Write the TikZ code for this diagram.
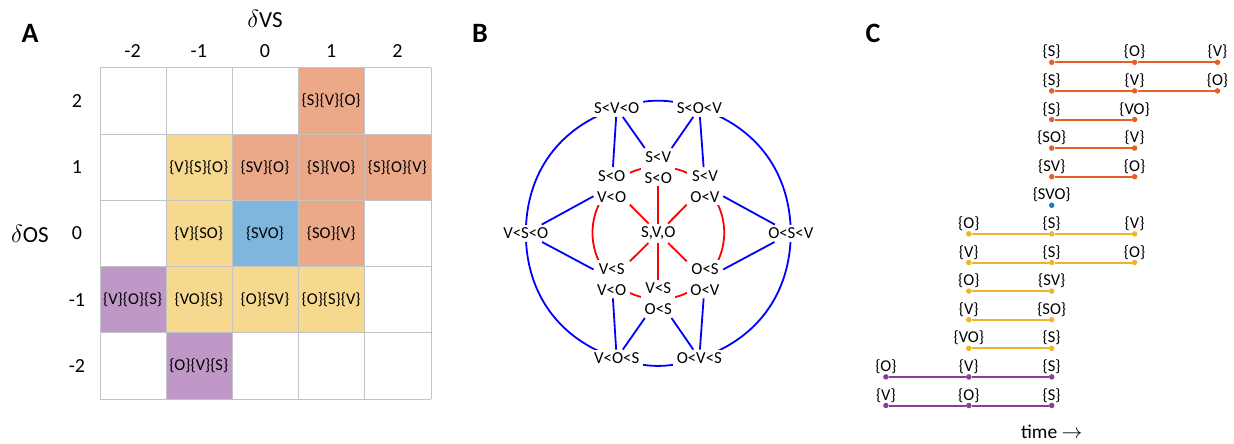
\documentclass[tikz,border=0pt]{standalone}
\usepackage{fontspec}
\setmainfont{Carlito}
\usetikzlibrary{backgrounds}
\definecolor{cellorange}{HTML}{ECA98A}
\definecolor{cellyellow}{HTML}{F6D88E}
\definecolor{cellblue}{HTML}{7FB6DE}
\definecolor{cellpurple}{HTML}{BF98C8}
\definecolor{gridgray}{HTML}{C4C4C4}
\definecolor{tOrange}{HTML}{E0622A}
\definecolor{tYellow}{HTML}{F0B429}
\definecolor{tPurple}{HTML}{8A3D96}
\definecolor{tBlue}{HTML}{1F78C8}
\begin{document}
\begin{tikzpicture}[x=1pt,y=1pt,
  panel/.style={font=\bfseries\fontsize{28}{32}\selectfont, inner sep=0pt},
  axisnum/.style={font=\fontsize{20}{24}\selectfont, inner sep=0pt},
  axistitle/.style={font=\fontsize{23}{27}\selectfont, inner sep=0pt},
  cell/.style={minimum width=66.2pt, minimum height=66.2pt, inner sep=0pt,
    font=\fontsize{16.5}{19}\selectfont},
  gridline/.style={draw=gridgray, line width=1pt},
  ord/.style={font=\fontsize{16.8}{21}\selectfont, inner xsep=3.5pt, inner ysep=3pt,
    align=center, fill=white},
  blueedge/.style={draw=blue, line width=1.8pt},
  rededge/.style={draw=red, line width=1.8pt},
  tdot/.style={circle, fill=#1, inner sep=0pt, minimum size=5.5pt},
  tlab/.style={font=\fontsize{16.5}{19}\selectfont, inner sep=2pt, label distance=-2pt},
  tline/.style={draw=#1, line width=2pt}]
\useasboundingbox (0,0) rectangle (1234,-444);

% ---------- panel A: grid of (dOS, dVS) ----------
\node[panel] (pA) at (30,-33) {A};
\node[axistitle] (tVS) at (265,-19) {$\delta$VS};
\node[axistitle] (tOS) at (30,-233.5) {$\delta$OS};
\foreach \i in {-2,...,2} {
  \node[axisnum] (col\i) at (265+66.2*\i,-51) {\i};
  \node[axisnum] (row\i) at (77,-233.5+66.2*\i) {\i};
}
\foreach \i/\j/\col/\txt in {
   1/2/cellorange/{\{S\}\{V\}\{O\}},
  -1/1/cellyellow/{\{V\}\{S\}\{O\}},
   0/1/cellorange/{\{SV\}\{O\}},
   1/1/cellorange/{\{S\}\{VO\}},
   2/1/cellorange/{\{S\}\{O\}\{V\}},
  -1/0/cellyellow/{\{V\}\{SO\}},
   0/0/cellblue/{\{SVO\}},
   1/0/cellorange/{\{SO\}\{V\}},
  -2/-1/cellpurple/{\{V\}\{O\}\{S\}},
  -1/-1/cellyellow/{\{VO\}\{S\}},
   0/-1/cellyellow/{\{O\}\{SV\}},
   1/-1/cellyellow/{\{O\}\{S\}\{V\}},
  -1/-2/cellpurple/{\{O\}\{V\}\{S\}}} {
  \node[cell, fill=\col] (cell\i\j) at (265+66.2*\i,-233.5+66.2*\j) {\txt};
}
\foreach \k in {0,...,5} {
  \draw[gridline] (100+66.2*\k,-68) -- (100+66.2*\k,-399);
  \draw[gridline] (100,-68-66.2*\k) -- (431,-68-66.2*\k);
}

% ---------- panel B: lattice of orders ----------
\node[panel] (pB) at (480,-33) {B};
\node[ord] (svo) at (616.7,-108.3) {S<V<O};
\node[ord] (sov) at (699.3,-108.3) {S<O<V};
\node[ord] (osv) at (790.8,-233.3) {O<S<V};
\node[ord] (ovs) at (699.3,-358.3) {O<V<S};
\node[ord] (vos) at (616.7,-358.3) {V<O<S};
\node[ord] (vso) at (525.8,-233.3) {V<S<O};
\node[ord] (all) at (658.3,-233.3) {S,V,O};
\node[ord] (mT)  at (658.3,-167.2) {S<V\\S<O};
\node[ord] (mUL) at (611.7,-186.3) {S<O\\V<O};
\node[ord] (mUR) at (705.0,-186.3) {S<V\\O<V};
\node[ord] (mLL) at (611.7,-279.2) {V<S\\V<O};
\node[ord] (mLR) at (705.0,-279.2) {O<S\\O<V};
\node[ord] (mB)  at (658.3,-298.8) {V<S\\O<S};

\begin{scope}[on background layer]
  % outer ring of total orders, centre to centre, hidden under the labels
  \draw[blueedge] (sov.center) to[bend right=18.4] (svo.center);
  \draw[blueedge] (svo.center) to[bend right=35.8] (vso.center);
  \draw[blueedge] (vso.center) to[bend right=35.8] (vos.center);
  \draw[blueedge] (vos.center) to[bend right=18.4] (ovs.center);
  \draw[blueedge] (ovs.center) to[bend right=35.8] (osv.center);
  \draw[blueedge] (osv.center) to[bend right=35.8] (sov.center);
  % inner ring of pairs of relations
  \draw[rededge] (mT.center) to[bend right=22.5] (mUL.center);
  \draw[rededge] (mUL.center) to[bend right=45] (mLL.center);
  \draw[rededge] (mLL.center) to[bend right=22.5] (mB.center);
  \draw[rededge] (mB.center) to[bend right=22.5] (mLR.center);
  \draw[rededge] (mLR.center) to[bend right=45] (mUR.center);
  \draw[rededge] (mUR.center) to[bend right=22.5] (mT.center);
\end{scope}
% total orders to pairs of relations
\draw[blueedge] (svo) -- (mUL);
\draw[blueedge] (svo) -- (mT);
\draw[blueedge] (sov) -- (mT);
\draw[blueedge] (sov) -- (mUR);
\draw[blueedge] (vso) -- (mUL);
\draw[blueedge] (vso) -- (mLL);
\draw[blueedge] (osv) -- (mUR);
\draw[blueedge] (osv) -- (mLR);
\draw[blueedge] (vos) -- (mLL);
\draw[blueedge] (vos) -- (mB);
\draw[blueedge] (ovs) -- (mB);
\draw[blueedge] (ovs) -- (mLR);
% spokes from the empty order
\foreach \m in {mT,mUL,mUR,mLL,mLR,mB}
  \draw[rededge] (all) -- (\m);

% ---------- panel C: event sequences in time ----------
\node[panel] (pC) at (873,-33) {C};
% rows of orange sequences
\node[tdot=tOrange, label={[tlab]above:\{S\}}] (r1a) at (1051.7,-62.3) {};
\node[tdot=tOrange, label={[tlab]above:\{O\}}] (r1b) at (1134.6,-62.3) {};
\node[tdot=tOrange, label={[tlab]above:\{V\}}] (r1c) at (1217.5,-62.3) {};
\node[tdot=tOrange, label={[tlab]above:\{S\}}] (r2a) at (1051.7,-90.9) {};
\node[tdot=tOrange, label={[tlab]above:\{V\}}] (r2b) at (1134.6,-90.9) {};
\node[tdot=tOrange, label={[tlab]above:\{O\}}] (r2c) at (1217.5,-90.9) {};
\node[tdot=tOrange, label={[tlab]above:\{S\}}] (r3a) at (1051.7,-119.5) {};
\node[tdot=tOrange, label={[tlab]above:\{VO\}}] (r3b) at (1134.6,-119.5) {};
\node[tdot=tOrange, label={[tlab]above:\{SO\}}] (r4a) at (1051.7,-148.1) {};
\node[tdot=tOrange, label={[tlab]above:\{V\}}] (r4b) at (1134.6,-148.1) {};
\node[tdot=tOrange, label={[tlab]above:\{SV\}}] (r5a) at (1051.7,-176.7) {};
\node[tdot=tOrange, label={[tlab]above:\{O\}}] (r5b) at (1134.6,-176.7) {};
\draw[tline=tOrange] (r1a) -- (r1b) -- (r1c);
\draw[tline=tOrange] (r2a) -- (r2b) -- (r2c);
\draw[tline=tOrange] (r3a) -- (r3b);
\draw[tline=tOrange] (r4a) -- (r4b);
\draw[tline=tOrange] (r5a) -- (r5b);
% simultaneous event
\node[tdot=tBlue, label={[tlab]above:\{SVO\}}] (r6a) at (1051.7,-205.3) {};
% rows of yellow sequences
\node[tdot=tYellow, label={[tlab]above:\{O\}}] (r7a) at (968.8,-233.9) {};
\node[tdot=tYellow, label={[tlab]above:\{S\}}] (r7b) at (1051.7,-233.9) {};
\node[tdot=tYellow, label={[tlab]above:\{V\}}] (r7c) at (1134.6,-233.9) {};
\node[tdot=tYellow, label={[tlab]above:\{V\}}] (r8a) at (968.8,-262.5) {};
\node[tdot=tYellow, label={[tlab]above:\{S\}}] (r8b) at (1051.7,-262.5) {};
\node[tdot=tYellow, label={[tlab]above:\{O\}}] (r8c) at (1134.6,-262.5) {};
\node[tdot=tYellow, label={[tlab]above:\{O\}}] (r9a) at (968.8,-291.1) {};
\node[tdot=tYellow, label={[tlab]above:\{SV\}}] (r9b) at (1051.7,-291.1) {};
\node[tdot=tYellow, label={[tlab]above:\{V\}}] (r10a) at (968.8,-319.7) {};
\node[tdot=tYellow, label={[tlab]above:\{SO\}}] (r10b) at (1051.7,-319.7) {};
\node[tdot=tYellow, label={[tlab]above:\{VO\}}] (r11a) at (968.8,-348.3) {};
\node[tdot=tYellow, label={[tlab]above:\{S\}}] (r11b) at (1051.7,-348.3) {};
\draw[tline=tYellow] (r7a) -- (r7b) -- (r7c);
\draw[tline=tYellow] (r8a) -- (r8b) -- (r8c);
\draw[tline=tYellow] (r9a) -- (r9b);
\draw[tline=tYellow] (r10a) -- (r10b);
\draw[tline=tYellow] (r11a) -- (r11b);
% rows of purple sequences
\node[tdot=tPurple, label={[tlab]above:\{O\}}] (r12a) at (885.9,-376.9) {};
\node[tdot=tPurple, label={[tlab]above:\{V\}}] (r12b) at (968.8,-376.9) {};
\node[tdot=tPurple, label={[tlab]above:\{S\}}] (r12c) at (1051.7,-376.9) {};
\node[tdot=tPurple, label={[tlab]above:\{V\}}] (r13a) at (885.9,-405.5) {};
\node[tdot=tPurple, label={[tlab]above:\{O\}}] (r13b) at (968.8,-405.5) {};
\node[tdot=tPurple, label={[tlab]above:\{S\}}] (r13c) at (1051.7,-405.5) {};
\draw[tline=tPurple] (r12a) -- (r12b) -- (r12c);
\draw[tline=tPurple] (r13a) -- (r13b) -- (r13c);
\node[font=\fontsize{19.5}{23}\selectfont, inner sep=0pt] (time) at (1051.7,-432.3) {time $\rightarrow$};
\end{tikzpicture}
\end{document}
